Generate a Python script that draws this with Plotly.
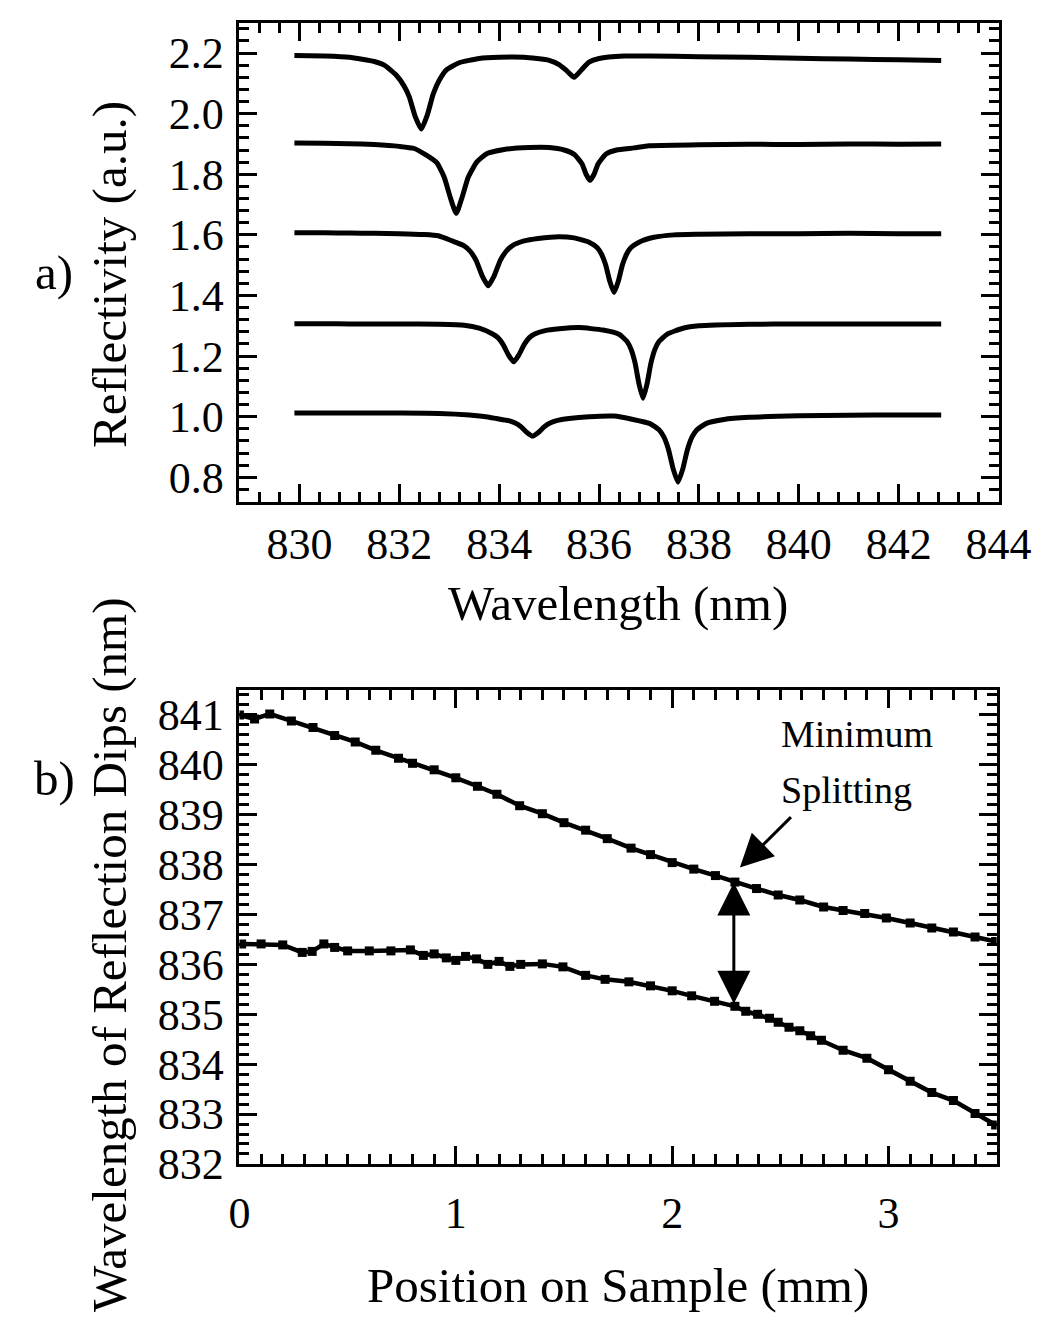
import plotly.graph_objects as go

# ---------------- panel a) reflectivity spectra (offset traces) ----------------
wl_1 = [829.9, 830.5, 831.0, 831.5, 831.7, 831.95, 832.1, 832.2, 832.32, 832.44, 832.56, 832.68,
        832.8, 832.95, 833.2, 833.6, 834.0, 834.5, 835.0, 835.2, 835.35, 835.5, 835.65, 835.8,
        836.0, 836.5, 837.0, 838.0, 839.0, 840.0, 841.0, 842.0, 842.85]
r_1 = [2.192, 2.190, 2.186, 2.172, 2.160, 2.125, 2.090, 2.055, 1.990, 1.949, 1.995, 2.065,
       2.110, 2.145, 2.168, 2.182, 2.186, 2.186, 2.176, 2.162, 2.142, 2.120, 2.145, 2.170,
       2.182, 2.190, 2.190, 2.188, 2.186, 2.183, 2.180, 2.178, 2.175]

wl_2 = [829.9, 830.5, 831.0, 831.5, 832.0, 832.3, 832.55, 832.75, 832.9, 833.02, 833.14, 833.26,
        833.38, 833.55, 833.75, 834.1, 834.6, 835.0, 835.3, 835.5, 835.66, 835.74, 835.82, 835.9,
        835.98, 836.14, 836.35, 836.7, 837.0, 838.0, 839.0, 840.0, 841.0, 842.0, 842.85]
r_2 = [1.903, 1.902, 1.901, 1.898, 1.892, 1.885, 1.862, 1.838, 1.790, 1.724, 1.671, 1.725,
       1.790, 1.840, 1.868, 1.882, 1.888, 1.888, 1.880, 1.866, 1.834, 1.800, 1.780, 1.800,
       1.834, 1.867, 1.880, 1.887, 1.894, 1.897, 1.899, 1.898, 1.900, 1.899, 1.900]

wl_3 = [829.9, 830.5, 831.0, 831.5, 832.0, 832.5, 832.78, 833.06, 833.3, 833.42, 833.54, 833.66,
        833.78, 833.9, 834.02, 834.14, 834.26, 834.5, 834.78, 835.2, 835.5, 835.8, 835.96, 836.05,
        836.13, 836.215, 836.3, 836.385, 836.47, 836.55, 836.64, 836.8, 837.1, 837.5, 838.0,
        839.0, 840.0, 841.0, 842.0, 842.85]
r_3 = [1.607, 1.607, 1.606, 1.605, 1.604, 1.601, 1.597, 1.580, 1.564, 1.546, 1.515, 1.465,
       1.432, 1.465, 1.515, 1.546, 1.564, 1.580, 1.588, 1.594, 1.590, 1.576, 1.558, 1.536,
       1.502, 1.447, 1.410, 1.447, 1.502, 1.536, 1.558, 1.576, 1.592, 1.600, 1.602,
       1.604, 1.604, 1.605, 1.604, 1.604]

wl_4 = [829.9, 830.5, 831.0, 832.0, 832.8, 833.3, 833.6, 833.87, 833.975, 834.08, 834.185, 834.29,
        834.395, 834.5, 834.605, 834.71, 834.92, 835.2, 835.6, 836.08, 836.4, 836.56, 836.64,
        836.72, 836.8, 836.88, 836.96, 837.04, 837.12, 837.2, 837.36, 837.68, 838.0, 839.0,
        840.0, 841.0, 842.0, 842.85]
r_4 = [1.307, 1.307, 1.306, 1.306, 1.305, 1.302, 1.292, 1.273, 1.261, 1.238, 1.204, 1.181,
       1.204, 1.238, 1.261, 1.273, 1.284, 1.290, 1.294, 1.286, 1.272, 1.248, 1.223,
       1.178, 1.108, 1.061, 1.108, 1.178, 1.223, 1.248, 1.272, 1.292, 1.300, 1.305,
       1.306, 1.306, 1.306, 1.306]

wl_5 = [829.9, 830.5, 831.0, 832.0, 832.8, 833.4, 833.7, 833.95, 834.19, 834.31, 834.43, 834.55,
        834.67, 834.79, 834.91, 835.03, 835.15, 835.4, 835.8, 836.3, 836.68, 837.01, 837.2,
        837.295, 837.39, 837.485, 837.58, 837.675, 837.77, 837.865, 837.96, 838.15, 838.5,
        839.0, 840.0, 841.0, 842.0, 842.85]
r_5 = [1.012, 1.012, 1.012, 1.012, 1.011, 1.006, 1.001, 0.994, 0.987, 0.980, 0.968, 0.949,
       0.936, 0.949, 0.968, 0.980, 0.987, 0.994, 1.000, 1.002, 0.991, 0.978, 0.957,
       0.934, 0.892, 0.827, 0.784, 0.827, 0.892, 0.934, 0.957, 0.978, 0.991,
       0.998, 1.003, 1.005, 1.006, 1.006]

spectra = [(wl_1, r_1), (wl_2, r_2), (wl_3, r_3), (wl_4, r_4), (wl_5, r_5)]

# ---------------- panel b) dip wavelengths vs position ----------------
pos_upper = [0.0, 0.07, 0.14, 0.24, 0.34, 0.44, 0.535, 0.63, 0.735, 0.80, 0.90, 1.0, 1.10, 1.19,
             1.295, 1.40, 1.50, 1.60, 1.70, 1.81, 1.90, 2.0, 2.10, 2.20, 2.29, 2.39, 2.49, 2.59,
             2.70, 2.79, 2.89, 2.99, 3.10, 3.20, 3.30, 3.40, 3.495]
dip_upper = [841.00, 840.92, 841.02, 840.88, 840.75, 840.59, 840.46, 840.29, 840.13, 840.03,
             839.90, 839.74, 839.57, 839.41, 839.18, 839.02, 838.84, 838.69, 838.52, 838.33,
             838.20, 838.04, 837.91, 837.78, 837.65, 837.52, 837.39, 837.29, 837.15, 837.08,
             837.02, 836.93, 836.83, 836.73, 836.65, 836.55, 836.46]

pos_lower = [0.01, 0.10, 0.20, 0.29, 0.336, 0.39, 0.44, 0.50, 0.60, 0.70, 0.79, 0.85, 0.90, 0.956,
             1.0, 1.045, 1.096, 1.148, 1.20, 1.25, 1.30, 1.40, 1.495, 1.60, 1.69, 1.80, 1.90, 2.0,
             2.09, 2.196, 2.29, 2.34, 2.395, 2.45, 2.49, 2.54, 2.59, 2.64, 2.69, 2.79, 2.90, 3.0,
             3.10, 3.20, 3.30, 3.40, 3.495]
dip_lower = [836.41, 836.41, 836.39, 836.24, 836.26, 836.41, 836.34, 836.27, 836.27, 836.27,
             836.29, 836.18, 836.21, 836.13, 836.08, 836.16, 836.11, 836.00, 836.06, 835.96,
             836.00, 836.01, 835.95, 835.78, 835.70, 835.65, 835.57, 835.47, 835.37, 835.26,
             835.16, 835.06, 835.00, 834.92, 834.84, 834.74, 834.67, 834.57, 834.48, 834.28,
             834.12, 833.89, 833.66, 833.43, 833.27, 833.01, 832.78]

# annotation anchor values
split_x = 2.285
split_top = 837.64
split_bottom = 835.18
arrow_tip = (2.313, 837.94)
arrow_tail = (2.556, 838.98)

W, H = 1061, 1335
FONT = "Liberation Serif"

fig = go.Figure()
for wl, r in spectra:
    fig.add_trace(go.Scatter(x=wl, y=r, mode="lines", xaxis="x", yaxis="y",
                             line=dict(color="black", width=5, shape="spline", smoothing=0.5),
                             showlegend=False, hoverinfo="skip"))

for p, d in [(pos_upper, dip_upper), (pos_lower, dip_lower)]:
    fig.add_trace(go.Scatter(x=p, y=d, mode="lines+markers", xaxis="x2", yaxis="y2",
                             line=dict(color="black", width=4.5),
                             marker=dict(symbol="square", size=9, color="black"),
                             showlegend=False, hoverinfo="skip"))

def px_x(px):
    return px / W

def px_y(py):
    return 1 - py / H

axis_common = dict(showline=True, linewidth=3, linecolor="black", mirror="ticks",
                   ticks="inside", ticklen=18, tickwidth=3, tickcolor="black",
                   showgrid=False, zeroline=False,
                   tickfont=dict(family=FONT, size=44, color="black"))

fig.update_layout(
    width=W, height=H,
    margin=dict(l=0, r=0, t=0, b=0),
    paper_bgcolor="white", plot_bgcolor="white",
    xaxis=dict(domain=[px_x(230), px_x(1022)], anchor="y", range=[828.8, 844],
               tick0=830, dtick=2, ticklabelstandoff=2,
               minor=dict(ticks="inside", ticklen=10, tickwidth=2.5, dtick=0.4, tick0=830,
                          tickcolor="black"),
               **axis_common),
    yaxis=dict(domain=[px_y(503), px_y(15)], anchor="x", range=[0.72, 2.30],
               tick0=0.8, dtick=0.2, tickformat=".1f", ticklabelstandoff=4,
               minor=dict(ticks="inside", ticklen=10, tickwidth=2.5, dtick=0.04, tick0=0.8,
                          tickcolor="black"),
               **axis_common),
    xaxis2=dict(domain=[px_x(230), px_x(1020)], anchor="y2", range=[0, 3.5],
                tick0=0, dtick=1, ticklabelstandoff=8,
                minor=dict(ticks="inside", ticklen=10, tickwidth=2.5, dtick=0.1, tick0=0,
                           tickcolor="black"),
                **axis_common),
    yaxis2=dict(domain=[px_y(1178), px_y(695)], anchor="x2", range=[832, 841.5],
                tick0=832, dtick=1, ticklabelstandoff=4,
                minor=dict(ticks="inside", ticklen=10, tickwidth=2.5, dtick=0.2, tick0=832,
                           tickcolor="black"),
                **axis_common),
)

texts = [
    ("Wavelength (nm)", 625, 607, 0, 49, "center"),
    ("Position on Sample (mm)", 625, 1302, 0, 49, "center"),
    ("Reflectivity (a.u.)", 95, 272, -90, 49, "center"),
    ("Wavelength of Reflection Dips (nm)", 95, 965, -90, 49, "center"),
    ("a)", 37, 270, 0, 49, "center"),
    ("b)", 37, 785, 0, 49, "center"),
]
for t, x, y, ang, sz, al in texts:
    fig.add_annotation(text=t, x=px_x(x), y=px_y(y), xref="paper", yref="paper",
                       xanchor="center", yanchor="middle", textangle=ang, showarrow=False,
                       font=dict(family=FONT, size=sz, color="black"))

for t, y in [("Minimum", 740), ("Splitting", 797)]:
    fig.add_annotation(text=t, x=px_x(793), y=px_y(y), xref="paper", yref="paper",
                       xanchor="left", yanchor="middle", showarrow=False,
                       font=dict(family=FONT, size=38, color="black"))

# arrow pointing to minimum splitting
fig.add_annotation(x=arrow_tip[0], y=arrow_tip[1], ax=arrow_tail[0], ay=arrow_tail[1],
                   xref="x2", yref="y2", axref="x2", ayref="y2", text="",
                   showarrow=True, arrowhead=2, arrowsize=2.2, arrowwidth=3, arrowcolor="black")
# double-headed vertical arrow
fig.add_annotation(x=split_x, y=split_top, ax=split_x, ay=split_bottom,
                   xref="x2", yref="y2", axref="x2", ayref="y2", text="",
                   showarrow=True, arrowhead=2, startarrowhead=2, arrowside="end+start",
                   arrowsize=2.2, startarrowsize=2.2, arrowwidth=3, arrowcolor="black")

fig.write_html("out.html")
